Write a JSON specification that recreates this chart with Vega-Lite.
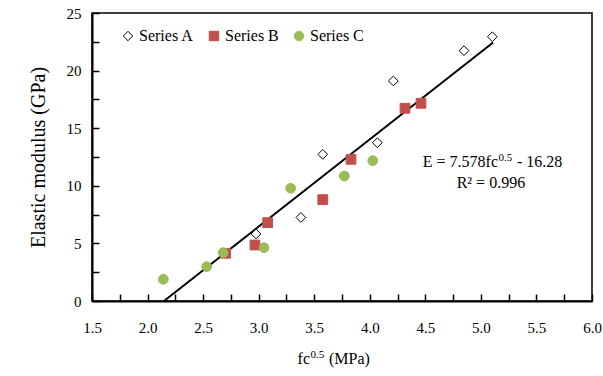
{
  "$schema": "https://vega.github.io/schema/vega-lite/v6.json",
  "width": 500,
  "height": 288,
  "autosize": "none",
  "padding": {"left": 92, "top": 13, "right": 11, "bottom": 75},
  "background": "white",
  "config": {
    "font": "Liberation Serif",
    "view": {"stroke": "black", "strokeWidth": 1.5},
    "axis": {
      "grid": false,
      "domainColor": "black",
      "domainWidth": 2,
      "tickColor": "black",
      "tickWidth": 1.5,
      "tickOpacity": 1,
      "labelFont": "Liberation Serif",
      "labelFontSize": 15,
      "labelColor": "black",
      "titleFont": "Liberation Serif",
      "titleFontSize": 16,
      "titleFontWeight": "normal",
      "titleColor": "black"
    }
  },
  "datasets": {
    "pts": [
      {"series": "Series A", "x": 2.976, "y": 5.82},
      {"series": "Series A", "x": 3.38, "y": 7.25},
      {"series": "Series A", "x": 3.577, "y": 12.73},
      {"series": "Series A", "x": 4.068, "y": 13.74},
      {"series": "Series A", "x": 4.212, "y": 19.1},
      {"series": "Series A", "x": 4.848, "y": 21.73},
      {"series": "Series A", "x": 5.103, "y": 22.94},
      {"series": "Series B", "x": 2.703, "y": 4.14},
      {"series": "Series B", "x": 2.967, "y": 4.86},
      {"series": "Series B", "x": 3.081, "y": 6.8},
      {"series": "Series B", "x": 3.577, "y": 8.8},
      {"series": "Series B", "x": 3.831, "y": 12.3},
      {"series": "Series B", "x": 4.317, "y": 16.73},
      {"series": "Series B", "x": 4.461, "y": 17.16},
      {"series": "Series C", "x": 2.142, "y": 1.88},
      {"series": "Series C", "x": 2.532, "y": 2.98},
      {"series": "Series C", "x": 2.68, "y": 4.19},
      {"series": "Series C", "x": 3.048, "y": 4.63},
      {"series": "Series C", "x": 3.288, "y": 9.78},
      {"series": "Series C", "x": 3.771, "y": 10.85},
      {"series": "Series C", "x": 4.027, "y": 12.18}
    ],
    "fit": [
      {"x": 2.148, "y": 0},
      {"x": 5.11, "y": 22.44}
    ],
    "notes": [
      {"part": "base", "x": 5.154, "y": 11.62, "text": "E = 7.578fc"},
      {"part": "sup", "x": 5.154, "y": 11.62, "text": "0.5"},
      {"part": "tail", "x": 5.154, "y": 11.62, "text": "- 16.28"},
      {"part": "r2", "x": 5.09, "y": 9.85, "text": "R² = 0.996"},
      {"part": "xbase", "x": 3.462, "y": -5.5, "text": "fc"},
      {"part": "xsup", "x": 3.462, "y": -5.5, "text": "0.5"},
      {"part": "xtail", "x": 3.462, "y": -5.5, "text": "(MPa)"}
    ]
  },
  "encoding": {
    "x": {
      "field": "x", "type": "quantitative",
      "scale": {"domain": [1.5, 6], "nice": false},
      "axis": {
        "title": null,
        "ticks": true,
        "tickSize": -7,
        "values": [1.5, 1.75, 2, 2.25, 2.5, 2.75, 3, 3.25, 3.5, 3.75, 4, 4.25, 4.5, 4.75, 5, 5.25, 5.5, 5.75, 6],
        "labelExpr": "(datum.value * 2) % 1 == 0 ? format(datum.value, '.1f') : ''",
        "labelPadding": 26,
        "labelFlush": false
      }
    },
    "y": {
      "field": "y", "type": "quantitative",
      "scale": {"domain": [0, 25], "nice": false},
      "axis": {
        "title": "Elastic modulus (GPa)",
        "titleFontSize": 20,
        "ticks": true,
        "tickSize": -7,
        "values": [0, 2.5, 5, 7.5, 10, 12.5, 15, 17.5, 20, 22.5, 25],
        "labelExpr": "datum.value % 5 == 0 ? format(datum.value, 'd') : ''",
        "labelPadding": 18,
        "titlePadding": 18,
        "labelFlush": false
      }
    }
  },
  "layer": [
    {
      "data": {"name": "fit"},
      "mark": {"type": "line", "color": "black", "strokeWidth": 2}
    },
    {
      "data": {"name": "pts"},
      "mark": {"type": "point", "filled": false, "size": 95, "strokeWidth": 1, "opacity": 1},
      "encoding": {
        "shape": {
          "field": "series", "type": "nominal",
          "scale": {"domain": ["Series A", "Series B", "Series C"], "range": ["diamond", "square", "circle"]},
          "legend": {
            "title": null,
            "orient": "none",
            "legendX": 28,
            "legendY": 15,
            "direction": "horizontal",
            "labelFont": "Liberation Serif",
            "labelFontSize": 16,
            "labelColor": "black",
            "labelLimit": 0,
            "labelOffset": 3,
            "columnPadding": 12,
            "symbolSize": 90,
            "symbolStrokeWidth": 1
          }
        },
        "fill": {
          "field": "series", "type": "nominal",
          "scale": {"domain": ["Series A", "Series B", "Series C"], "range": ["white", "#C0504D", "#9BBB59"]}
        },
        "stroke": {
          "field": "series", "type": "nominal",
          "scale": {"domain": ["Series A", "Series B", "Series C"], "range": ["black", "#C0504D", "#9BBB59"]}
        }
      }
    },
    {
      "data": {"name": "notes"},
      "transform": [{"filter": "datum.part == 'base' || datum.part == 'xbase'"}],
      "mark": {"type": "text", "font": "Liberation Serif", "fontSize": 16, "color": "black", "align": "right", "baseline": "alphabetic"},
      "encoding": {
        "text": {"field": "text", "type": "nominal"}
      }
    },
    {
      "data": {"name": "notes"},
      "transform": [{"filter": "datum.part == 'sup' || datum.part == 'xsup'"}],
      "mark": {"type": "text", "font": "Liberation Serif", "fontSize": 11, "color": "black", "align": "left", "baseline": "alphabetic", "dx": 0.5, "dy": -6},
      "encoding": {
        "text": {"field": "text", "type": "nominal"}
      }
    },
    {
      "data": {"name": "notes"},
      "transform": [{"filter": "datum.part == 'tail' || datum.part == 'xtail'"}],
      "mark": {"type": "text", "font": "Liberation Serif", "fontSize": 16, "color": "black", "align": "left", "baseline": "alphabetic", "dx": 19},
      "encoding": {
        "text": {"field": "text", "type": "nominal"}
      }
    },
    {
      "data": {"name": "notes"},
      "transform": [{"filter": "datum.part == 'r2'"}],
      "mark": {"type": "text", "font": "Liberation Serif", "fontSize": 16, "color": "black", "align": "center", "baseline": "alphabetic"},
      "encoding": {
        "text": {"field": "text", "type": "nominal"}
      }
    }
  ]
}
